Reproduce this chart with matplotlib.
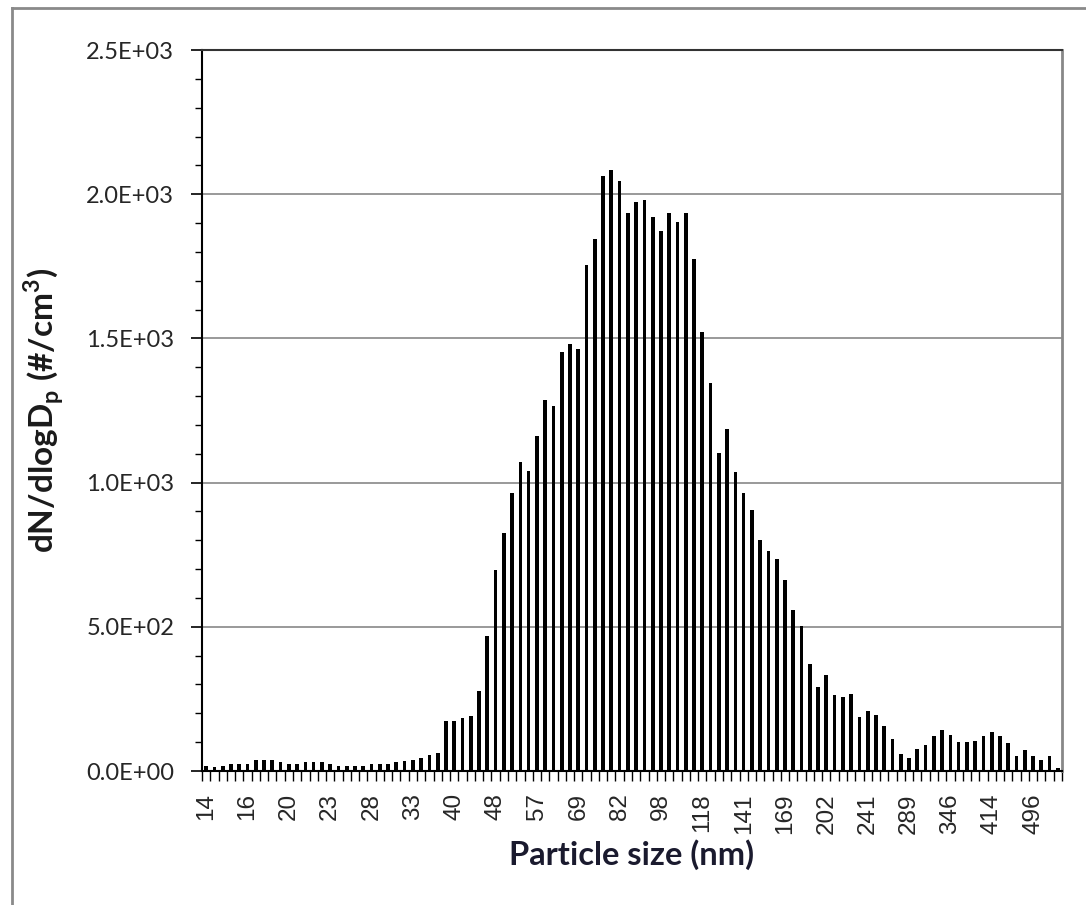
import matplotlib
matplotlib.use("Agg")
import matplotlib.pyplot as plt
import numpy as np
from matplotlib.lines import Line2D
from matplotlib.ticker import MultipleLocator, FixedLocator

# ---- data ----
sizes_nm = [13.6, 14.1, 14.6, 15.1, 15.7, 16.3, 16.8, 17.5, 18.1, 18.8,
            19.5, 20.2, 20.9, 21.7, 22.5, 23.3, 24.1, 25.0, 25.9, 26.9,
            27.9, 28.9, 30.0, 31.1, 32.2, 33.4, 34.6, 35.9, 37.2, 38.5,
            40.0, 41.4, 42.9, 44.5, 46.1, 47.8, 49.6, 51.4, 53.3, 55.2,
            57.3, 59.4, 61.5, 63.8, 66.1, 68.5, 71.0, 73.7, 76.4, 79.1,
            82.0, 85.1, 88.2, 91.4, 94.7, 98.2, 101.8, 105.5, 109.4, 113.4,
            117.6, 121.9, 126.3, 131.0, 135.8, 140.7, 145.9, 151.2, 156.8, 162.5,
            168.5, 174.7, 181.1, 187.7, 194.6, 201.7, 209.1, 216.7, 224.7, 232.9,
            241.4, 250.3, 259.5, 269.0, 278.8, 289.0, 299.6, 310.6, 322.0, 333.8,
            346.0, 358.7, 371.8, 385.4, 399.5, 414.2, 429.4, 445.1, 461.4, 478.3,
            495.8, 514.0, 532.8, 552.3]

dndlogdp = [17, 14, 17, 25, 25, 25, 39, 39, 39, 32,
            25, 25, 32, 32, 32, 25, 17, 17, 17, 17,
            25, 25, 25, 32, 33, 39, 46, 55, 64, 174,
            174, 183, 191, 279, 467, 698, 826, 965, 1070, 1041,
            1163, 1287, 1264, 1452, 1480, 1462, 1754, 1845, 2063, 2084,
            2047, 1936, 1973, 1979, 1921, 1874, 1936, 1905, 1936, 1777,
            1523, 1344, 1102, 1187, 1038, 963, 906, 802, 764, 736,
            661, 557, 503, 372, 292, 333, 263, 258, 266, 186,
            208, 194, 156, 112, 60, 44, 76, 91, 120, 142,
            126, 99, 99, 105, 120, 134, 120, 97, 53, 74,
            53, 39, 53, 12]

tick_labels = ["14", "16", "20", "23", "28", "33", "40", "48", "57", "69", "82",
               "98", "118", "141", "169", "202", "241", "289", "346", "414", "496"]
label_every = 5

yticks = [0, 500, 1000, 1500, 2000, 2500]
ytick_labels = ["0.0E+00", "5.0E+02", "1.0E+03", "1.5E+03", "2.0E+03", "2.5E+03"]

# ---- figure ----
W, H = 1086, 905
fig = plt.figure(figsize=(W / 100, H / 100), dpi=100)
fig.patch.set_facecolor("white")

left, right, top, bottom = 202, 1062, 50, 771
ax = fig.add_axes([left / W, 1 - bottom / H, (right - left) / W, (bottom - top) / H])

x = np.arange(len(sizes_nm))
ax.bar(x, dndlogdp, width=0.45, color="black", zorder=3)

ax.set_xlim(-0.5, len(sizes_nm) - 0.5)
ax.set_ylim(0, 2500)

# gridlines
ax.set_yticks(yticks)
ax.set_yticklabels(ytick_labels, fontfamily="Lato", fontsize=17, color="#262626")
ax.yaxis.set_minor_locator(MultipleLocator(100))
ax.grid(axis="y", which="major", color="#888888", linewidth=1.2, zorder=1)
ax.tick_params(axis="y", which="major", direction="out", length=8, width=1.2,
               pad=12, color="black")
ax.tick_params(axis="y", which="minor", direction="out", length=5, width=1.0,
               color="black")

# x ticks: labels every 5 categories, tick marks at category boundaries
major_pos = list(range(0, len(sizes_nm), label_every))[:len(tick_labels)]
ax.xaxis.set_major_locator(FixedLocator(major_pos))
ax.set_xticklabels(tick_labels, rotation=90, fontfamily="Liberation Sans",
                   fontsize=17.5, color="#262626")
ax.xaxis.set_minor_locator(FixedLocator(np.arange(-0.5, len(sizes_nm), 1.0)))
ax.tick_params(axis="x", which="major", length=0, pad=16)
ax.tick_params(axis="x", which="minor", direction="out", length=7, width=1.0,
               color="black")

for s in ["left", "bottom"]:
    ax.spines[s].set_color("black")
    ax.spines[s].set_linewidth(1.5)
ax.spines["top"].set_color("#333333")
ax.spines["top"].set_linewidth(1.5)
ax.spines["right"].set_color("#888888")
ax.spines["right"].set_linewidth(2.0)

ax.set_xlabel("Particle size (nm)", fontfamily="Lato", fontweight="bold",
              fontsize=23.5, color="#1a1a2e", va="center")
ax.xaxis.set_label_coords(0.5, (bottom - 855) / (bottom - top))

ax.set_ylabel(r"dN/dlogD$_{\mathregular{p}}$ (#/cm$^{\mathregular{3}}$)",
              fontfamily="Lato", fontweight="bold", fontsize=24, color="#1a1a1a",
              va="center")
ax.yaxis.set_label_coords((44 - left) / (right - left), 0.5)

# outer chart frame
fig.add_artist(Line2D([12 / W, 12 / W], [0, 1 - 8 / H], transform=fig.transFigure,
                      color="#8a8a8a", linewidth=2))
fig.add_artist(Line2D([12 / W, 1], [1 - 8 / H, 1 - 8 / H], transform=fig.transFigure,
                      color="#8a8a8a", linewidth=2))

fig.savefig("out.png", dpi=100, facecolor="white")
